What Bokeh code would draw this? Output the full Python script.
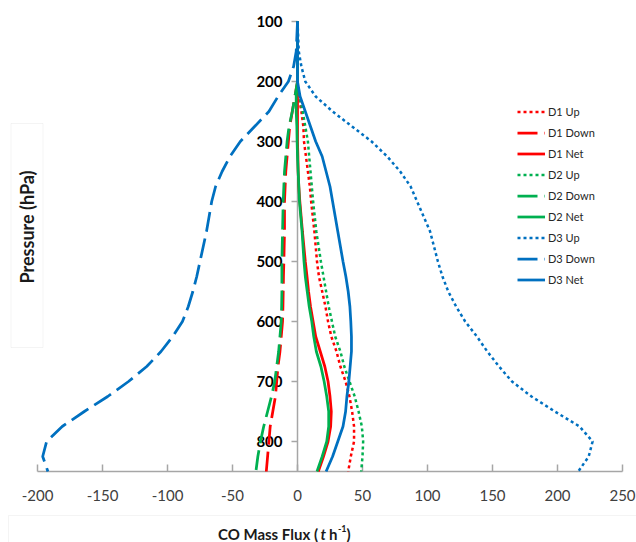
import math
from bokeh.plotting import figure
from bokeh.models import (Range1d, LinearAxis, FixedTicker, Label, BoxAnnotation,
                          Legend, LegendItem)
from bokeh.embed import file_html
from bokeh.resources import INLINE

# ---------------- data ----------------
pressure = [100, 150, 175, 200, 225, 250, 275, 300, 325, 350, 375, 400, 450, 500, 525,
            550, 575, 600, 625, 650, 675, 700, 725, 750, 775, 800, 825, 850]

d1_up   = [0, 0, 0, 0, 1, 3, 4.5, 5, 6.5, 8, 9.5, 10.5, 13, 15, 16.5,
           19, 21.5, 23.5, 26, 30, 33, 37, 40, 42, 43.5, 43.5, 41, 39]
d1_down = [0, 0, 0, 0, -2, -4, -6, -7, -8, -9, -9.5, -10, -10, -10.5, -10.8,
           -11, -11.2, -11.5, -12.5, -13.5, -15, -16, -17, -19, -21, -22, -23, -24]
d1_net  = [0, 0, 0, 0, 0, 0, 0, 0, 0.3, 0.5, 1, 1.8, 3.8, 6, 7.3,
           8.5, 10, 12, 14, 17.5, 21, 23.5, 25, 26, 25.5, 23.5, 20, 16]
d2_up   = [0, 0, 0, 0, 1.5, 4, 6, 8, 9, 10, 11, 12, 14.5, 18, 20,
           22, 24, 26.5, 29, 33, 36, 40, 44, 47, 49.5, 50.5, 50, 49]
d2_down = [0, 0, 0, 0, -2, -4, -6.5, -8, -9, -10, -10.5, -11, -11.5, -12, -12,
           -12, -12.2, -12.5, -13.5, -14.5, -16, -17.5, -20, -23, -26, -28.5, -30.5, -32]
d2_net  = [0, 0, 0, 0, -1, -1, -0.5, -0.3, 0, 0.5, 1, 1.5, 3.5, 5, 6,
           7.5, 9, 11, 12.5, 14.5, 18, 20.5, 22.5, 24, 24, 22.5, 19, 15]
d3_up   = [0, 1, 3, 6, 14, 27, 42, 57, 69, 79, 87, 92, 102, 108, 111.5,
           116, 122, 129, 138, 146, 155, 165, 180, 198, 217, 227, 224, 216]
d3_down = [0, -1, -3, -7, -15, -22, -33, -44, -52, -58, -63, -66, -70, -75, -77.5,
           -80.5, -84, -88.5, -96, -105, -116, -130, -146, -164, -181, -193, -196, -192]
d3_net  = [0, 0, 0, 0, 2, 6, 10, 14, 19, 22, 25, 27, 31, 35, 37.2,
           39, 40.3, 41, 41.5, 41.5, 40.5, 39.5, 38, 37, 35, 31, 27, 22]

x_ticks = [-200, -150, -100, -50, 0, 50, 100, 150, 200, 250]
y_ticks = [100, 200, 300, 400, 500, 600, 700, 800]

series_names = ["D1 Up", "D1 Down", "D1 Net", "D2 Up", "D2 Down", "D2 Net",
                "D3 Up", "D3 Down", "D3 Net"]
series_values = [d1_up, d1_down, d1_net, d2_up, d2_down, d2_net, d3_up, d3_down, d3_net]

# ---------------- styles ----------------
RED, GREEN, BLUE = "#FF0000", "#00B050", "#0070C0"
colors = [RED, RED, RED, GREEN, GREEN, GREEN, BLUE, BLUE, BLUE]
kinds = ["up", "down", "net"] * 3

W, H = 636, 542
# pixel <-> data mapping helpers (layout only)
X0, XS = 297.0, 1.3
Y0, YS = 21.0, 0.6
def px2x(px):
    return (px - X0) / XS
def py2p(py):
    return 100 + (py - Y0) / YS

p = figure(width=W, height=H, output_backend="svg", toolbar_location=None,
           x_range=Range1d(px2x(0), px2x(W)), y_range=Range1d(py2p(H), py2p(0)),
           x_axis_location=None, y_axis_location=None, min_border=0,
           title=None)
p.outline_line_color = None
p.grid.visible = False
p.background_fill_color = "white"
p.border_fill_color = "white"

# axes
xaxis = LinearAxis(fixed_location=850, bounds=(-200, 250),
                   ticker=FixedTicker(ticks=x_ticks))
xaxis.major_label_overrides = {t: str(t) for t in x_ticks}
xaxis.axis_line_color = "#A6A6A6"
xaxis.axis_line_width = 1.5
xaxis.major_tick_line_color = "#A6A6A6"
xaxis.major_tick_line_width = 1.5
xaxis.major_tick_in = 7
xaxis.major_tick_out = 0
xaxis.minor_tick_line_color = None
xaxis.major_label_text_font = "Lato"
xaxis.major_label_text_font_size = "15px"
xaxis.major_label_text_color = "#404040"
xaxis.major_label_standoff = 18
xaxis.level = "underlay"
p.add_layout(xaxis, "below")

yaxis = LinearAxis(fixed_location=0, bounds=(100, 850),
                   ticker=FixedTicker(ticks=y_ticks))
yaxis.major_label_overrides = {t: str(t) for t in y_ticks}
yaxis.axis_line_color = "#A6A6A6"
yaxis.axis_line_width = 1.5
yaxis.major_tick_line_color = "#A6A6A6"
yaxis.major_tick_line_width = 1.5
yaxis.major_tick_in = 0
yaxis.major_tick_out = 6
yaxis.minor_tick_line_color = None
yaxis.major_label_text_font = "Lato"
yaxis.major_label_text_font_style = "bold"
yaxis.major_label_text_font_size = "15px"
yaxis.major_label_text_color = "#000000"
yaxis.major_label_standoff = 9
yaxis.level = "underlay"
p.add_layout(yaxis, "left")

# lines
items = []
for name, vals, col, kind in zip(series_names, series_values, colors, kinds):
    if kind == "up":
        r = p.line(vals, pressure, line_color=col, line_width=2.5, line_dash="3 3")
    elif kind == "down":
        r = p.line(vals, pressure, line_color=col, line_width=2.75, line_dash="20 7")
    else:
        r = p.line(vals, pressure, line_color=col, line_width=2.75)
    items.append(LegendItem(label=name, renderers=[r]))

legend = Legend(items=items, location=(517, 255), orientation="vertical",
                glyph_width=28, glyph_height=15, label_height=15, spacing=6,
                padding=0, margin=0, label_standoff=3,
                label_text_font="Lato", label_text_font_size="11px",
                label_text_color="#262626",
                border_line_color=None, background_fill_alpha=0)
p.add_layout(legend, "center")

# y-axis title box & text
p.add_layout(BoxAnnotation(left=px2x(10.5), right=px2x(42.5), top=py2p(123), bottom=py2p(347),
                           fill_alpha=0, line_color="#D9D9D9", line_width=1))
p.add_layout(Label(x=px2x(26.5), y=py2p(226.5), text="Pressure (hPa)", angle=math.pi / 2,
                   text_align="center", text_baseline="middle", text_font="Lato",
                   text_font_style="bold", text_font_size="18px", text_color="#1A1A1A"))

# x-axis title box & text
p.add_layout(BoxAnnotation(left=px2x(8), right=px2x(700), top=py2p(515), bottom=py2p(600),
                           fill_alpha=0, line_color="#D9D9D9", line_width=1))
ty = py2p(533)
def tlabel(px, text, align="left", style="bold", size="15px", y=ty):
    p.add_layout(Label(x=px2x(px), y=y, text=text, text_align=align, text_baseline="middle",
                       text_font="Lato", text_font_style=style, text_font_size=size,
                       text_color="#1A1A1A"))
tlabel(317.5, "CO Mass Flux (", align="right")
tlabel(320, "t", style="bold italic")
tlabel(328.5, "h")
tlabel(337.5, "-1", size="9px", y=py2p(528))
tlabel(346, ")")

open("out.html", "w").write(file_html(p, INLINE))
